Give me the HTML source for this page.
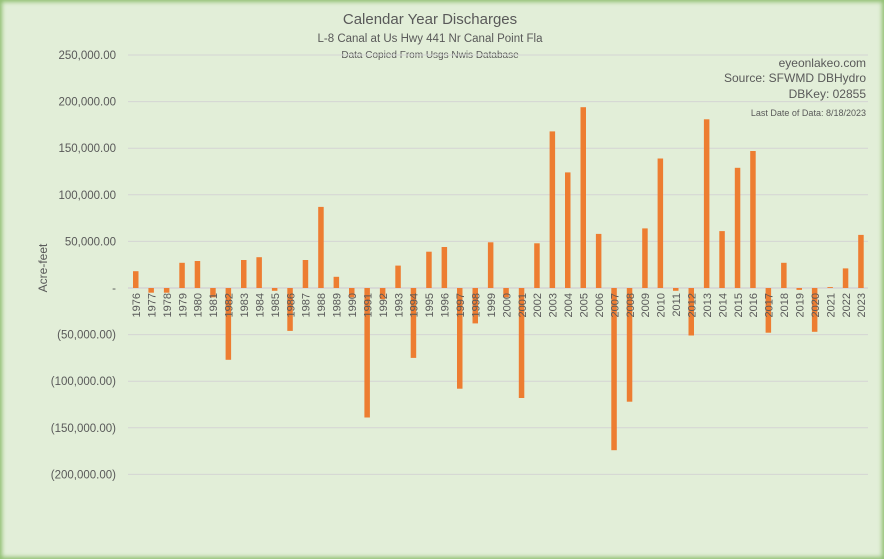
<!DOCTYPE html>
<html><head><meta charset="utf-8"><style>
html,body{margin:0;padding:0;width:884px;height:559px;overflow:hidden;background:#e2eed8;}
#c{position:absolute;left:0;top:0;width:884px;height:559px;box-sizing:border-box;background:#e2eed8;box-shadow:inset 0 0 4px 2px #8fbf70;}
svg{position:absolute;left:0;top:0;}
text{font-family:"Liberation Sans",sans-serif;fill:#595959;}
</style></head><body><div id="c"></div>
<svg id="s" width="884" height="559" xmlns="http://www.w3.org/2000/svg">
<text x="430" y="24" font-size="15" text-anchor="middle">Calendar Year Discharges</text>
<text x="430" y="42" font-size="11.5" text-anchor="middle">L-8 Canal at Us Hwy 441 Nr Canal Point Fla</text>
<text x="430" y="58" font-size="10" text-anchor="middle">Data Copied From Usgs Nwis Database</text>
<text x="866" y="67" font-size="12" text-anchor="end">eyeonlakeo.com</text>
<text x="866" y="82" font-size="12" text-anchor="end">Source: SFWMD DBHydro</text>
<text x="866" y="98" font-size="12" text-anchor="end">DBKey: 02855</text>
<text x="866" y="116" font-size="9" text-anchor="end">Last Date of Data: 8/18/2023</text>
<text transform="translate(47,268) rotate(-90)" font-size="12" text-anchor="middle">Acre-feet</text>
<g id="g"></g>
</svg>
<script>
var vals=[18000,-5000,-5000,27000,29000,-10000,-77000,30000,33000,-3000,-46000,30000,87000,12000,-10000,-139000,-12000,24000,-75000,39000,44000,-108000,-38000,49000,-10000,-118000,48000,168000,124000,194000,58000,-174000,-122000,64000,139000,-3000,-51000,181000,61000,129000,147000,-48000,27000,-2000,-47000,1000,21000,57000];
var g=document.getElementById('g'),h='';
var z=288,k=46.6/50000;
for(var v=250000;v>=-200000;v-=50000){var y=z-v*k;
 if(v!==0) h+='<line x1="128" x2="868" y1="'+y+'" y2="'+y+'" stroke="#d4d4d4" stroke-width="1"/>';
 var l=v===0?'-':(v<0?'('+Math.abs(v).toLocaleString('en-US')+'.00)':v.toLocaleString('en-US')+'.00');
 h+='<text x="116" y="'+(y+4)+'" font-size="11.5" text-anchor="end">'+l+'</text>';}
h+='<line x1="128" x2="868" y1="288" y2="288" stroke="#d4d4d4" stroke-width="1.5"/>';
for(var i=0;i<vals.length;i++){var x=133+i*15.43,v=vals[i],hh=Math.abs(v)*k;
 h+='<rect x="'+x.toFixed(1)+'" y="'+(v>0?z-hh:z).toFixed(1)+'" width="5.5" height="'+hh.toFixed(1)+'" fill="#ed7d31"/>';}
for(var i=0;i<vals.length;i++){var x=133+i*15.43+3;
 h+='<text transform="translate('+(x+4).toFixed(1)+',293) rotate(-90)" font-size="11" text-anchor="end">'+(1976+i)+'</text>';}
g.innerHTML=h;
</script>
</body></html>
